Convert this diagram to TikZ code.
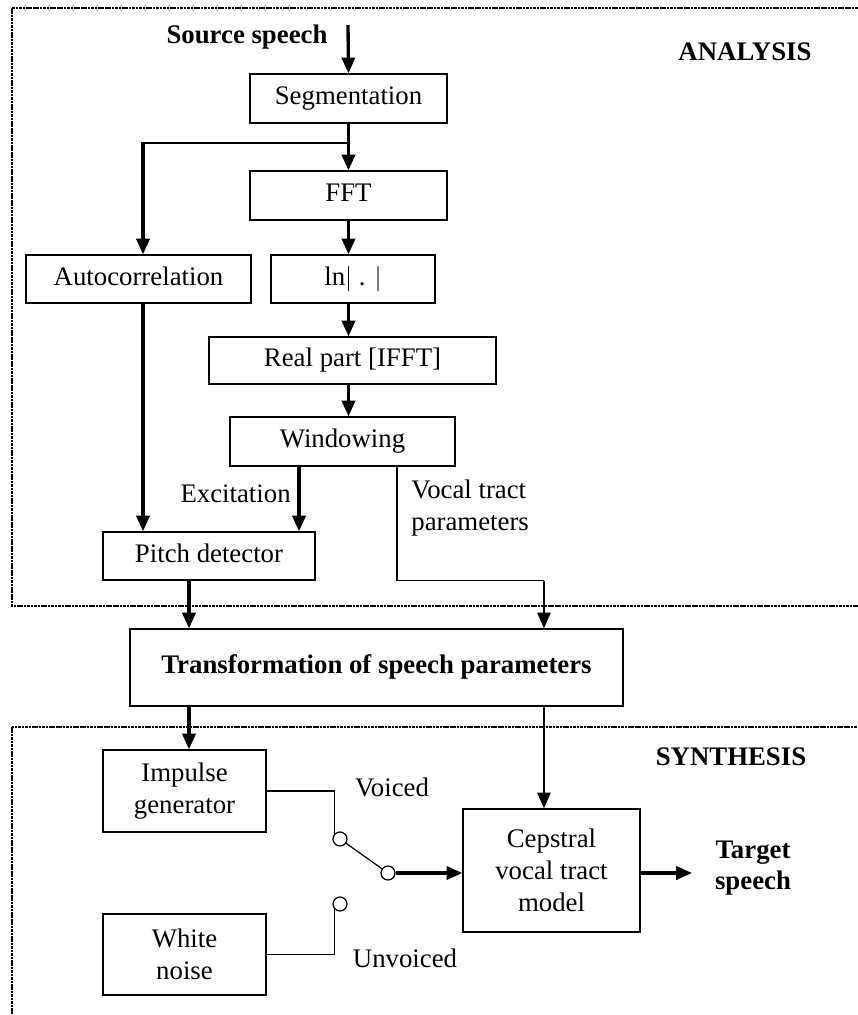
\documentclass[tikz,border=0pt]{standalone}
\usepackage{fontspec}
\setmainfont{Liberation Serif}
\usepackage{tikz}
\usetikzlibrary{arrows.meta,calc}

\begin{document}
\begin{tikzpicture}[
    x=0.02cm, y=-0.02cm,
    every node/.style={font=\fontsize{15.25pt}{18.1pt}\selectfont},
    box/.style={draw, line width=0.7pt, inner sep=0pt, align=center},
    lbl/.style={inner sep=0pt, align=center},
    frame/.style={line width=1.3pt, dash pattern=on 1.5pt off 0.45pt},
    sw/.style={draw, circle, line width=0.7pt, fill=white, minimum size=0.28cm, inner sep=0pt},
    thin/.style={line width=0.7pt},
    arr/.style={-{Triangle[length=9pt, width=7.5pt]}, line width=1.9pt},
    arrm/.style={-{Triangle[length=9pt, width=7.5pt]}, line width=1.2pt}
]
\useasboundingbox (0,0) rectangle (858,1015);
\draw[frame] (12,8) rectangle (875,606);
\draw[frame] (12,727) rectangle (875,1035);

\node[lbl, font=\fontsize{15.25pt}{18.1pt}\selectfont\bfseries] (analysis) at (745,52) {ANALYSIS};
\node[lbl, font=\fontsize{15.25pt}{18.1pt}\selectfont\bfseries] (synthesis) at (731,757) {SYNTHESIS};
\node[lbl, font=\fontsize{15.25pt}{18.1pt}\selectfont\bfseries] (source) at (247,37) {Source speech};

\node[box, minimum width=3.94cm, minimum height=0.98cm] (seg) at (348.5,98.5) {\strut Segmentation};
\node[box, minimum width=3.94cm, minimum height=0.98cm] (fft) at (348.5,195.5) {\strut FFT};
\node[box, minimum width=4.5cm, minimum height=0.96cm] (auto) at (138.5,279) {\strut Autocorrelation};
\node[box, minimum width=3.28cm, minimum height=0.96cm] (ln) at (353,279) {\strut ln$|$ . $|$};
\node[box, minimum width=5.74cm, minimum height=0.94cm] (real) at (352.5,360.5) {\strut Real part [IFFT]};
\node[box, minimum width=4.5cm, minimum height=0.98cm] (win) at (342.5,441.5) {\strut Windowing};
\node[box, minimum width=4.24cm, minimum height=0.96cm] (pitch) at (209,556) {\strut Pitch detector};
\node[box, minimum width=9.86cm, minimum height=1.54cm, font=\fontsize{15.25pt}{18.1pt}\selectfont\bfseries] (trans) at (376.5,667.5) {\strut Transformation of speech parameters};
\node[box, minimum width=3.26cm, minimum height=1.64cm] (imp) at (184.5,791) {Impulse\\generator};
\node[box, minimum width=3.26cm, minimum height=1.62cm] (noise) at (184.5,954.5) {White\\noise};
\node[box, minimum width=3.54cm, minimum height=2.46cm] (cep) at (551.5,870.5) {Cepstral\\vocal tract\\model};

\node[sw] (sw1) at (340,839) {};
\node[sw] (sw2) at (388,873) {};
\node[sw] (sw3) at (340,904) {};

\node[lbl, anchor=east] (exc) at (291,494) {Excitation};
\node[lbl, anchor=west, align=left] (vtl) at (411,508) {Vocal tract\\parameters};
\node[lbl] (voiced) at (392,787) {Voiced};
\node[lbl] (unvoiced) at (405,958) {Unvoiced};
\node[lbl, font=\fontsize{15.25pt}{18.1pt}\selectfont\bfseries] (target) at (753,868) {Target\\speech};

\coordinate (srcin) at (348,25);
\coordinate (split) at (348,143);
\coordinate (autoin) at ([xshift=0.09cm]auto.north);
\coordinate (branch) at (autoin |- split);
\coordinate (autoout) at ([xshift=0.09cm]auto.south);
\coordinate (excout) at ([xshift=-0.87cm]win.south);
\coordinate (vtout) at ([xshift=1.09cm]win.south);
\coordinate (vtbend) at ([xshift=3.35cm]trans.north |- pitch.south);
\coordinate (pitchout) at ([xshift=-0.4cm]pitch.south);
\coordinate (tgtin) at (692,873);

\draw[arr] (srcin) -- (seg.north);
\draw[arr] (seg.south) -- (fft.north);
\draw[thin] (split) -- (branch);
\draw[arr] ([yshift=0.35pt]branch) -- (autoin);
\draw[arr] (fft.south) -- (ln.north -| fft.south);
\draw[arr] (ln.south -| fft.south) -- (real.north -| fft.south);
\draw[arr] (real.south -| fft.south) -- (win.north -| fft.south);
\draw[arr] (autoout) -- (autoout |- pitch.north);
\draw[arr] (excout) -- (excout |- pitch.north);
\draw[thin] (vtout) |- (vtbend);
\draw[arrm] (vtbend) -- (vtbend |- trans.north);
\draw[arr] (pitchout) -- (pitchout |- trans.north);
\draw[arr] (trans.south -| pitchout) -- (imp.north -| pitchout);
\draw[arrm] (trans.south -| vtbend) -- (cep.north -| vtbend);
\draw[thin] (imp.east) -| (sw1.north west);
\draw[thin] (sw1) -- (sw2);
\draw[thin] (sw3.south west) |- (noise.east);
\draw[arr] (sw2.east) -- (sw2.east -| cep.west);
\draw[arr] (cep.east |- sw2) -- (tgtin);
\end{tikzpicture}
\end{document}
